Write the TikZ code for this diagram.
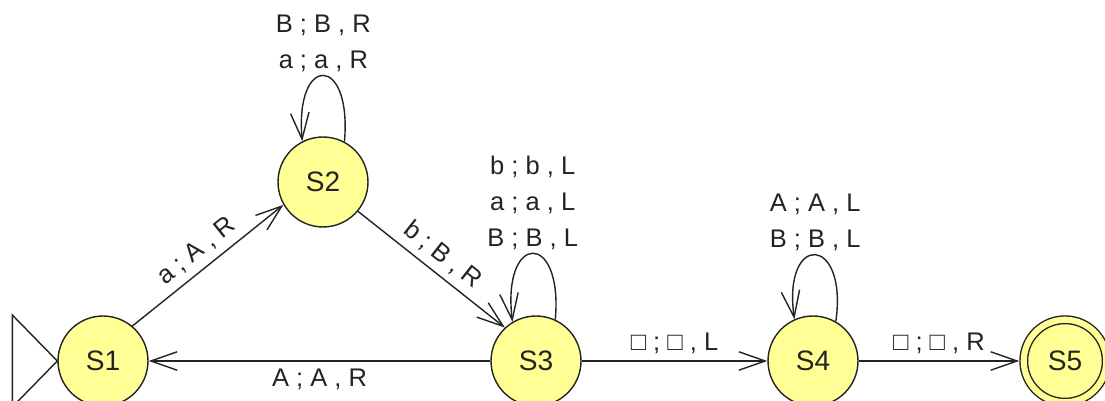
\documentclass[tikz,border=0pt]{standalone}
\usepackage{fontspec}
\setmainfont{Liberation Sans}
\usetikzlibrary{arrows.meta}
\definecolor{statefill}{RGB}{255,255,150}
\definecolor{ink}{RGB}{35,35,35}

\begin{document}
\begin{tikzpicture}[x=0.02cm, y=0.02cm,
    state/.style={circle, draw=ink, fill=statefill, line width=0.8pt, minimum size=1.8cm, inner sep=0pt, text=ink, font=\fontsize{16}{18}\selectfont},
    final/.style={state, double=statefill, double distance=3.5pt, minimum size=1.65cm, outer sep=2.6pt},
    trans/.style={draw=ink, line width=0.8pt, -{Straight Barb[length=15pt, width=10.5pt]}},
    lbl/.style={text=ink, font=\fontsize{14.5}{20.5}\selectfont, align=center, inner sep=4pt},
    looplbl/.style={lbl, inner sep=2pt}]
      \useasboundingbox (0, 0) rectangle (1105, 401);

      \node[state] (s1) at (103, 40) {S1};
      \node[state] (s2) at (323, 219) {S2};
      \node[state] (s3) at (536, 40) {S3};
      \node[state] (s4) at (813, 40) {S4};
      \node[final] (s5) at (1065, 40) {S5};

      % start marker
      \draw[draw=ink, line width=0.8pt] (s1.west) -- ++(-45, 46) -- ++(0, -92) -- cycle;

      \draw[trans] (s1.50) -- node[lbl, sloped, above] {a ; A , R} (s2.210);
      \draw[trans] (s2.320) -- node[lbl, sloped, above] {b ; B , R} (s3.133);
      \draw[trans] (s3) -- node[lbl, below] {A ; A , R} (s1);
      \draw[trans] (s3) -- node[lbl, above] {□ ; □ , L} (s4);
      \draw[trans] (s4) -- node[lbl, above] {□ ; □ , R} (s5);

      % loops
      \draw[trans] (s2.62) to[out=85, in=95, distance=1.76cm] node[looplbl, above] {B ; B , R\\a ; a , R} (s2.117);
      \draw[trans] (s3.65) to[out=85, in=97, distance=1.8cm] node[looplbl, above] {b ; b , L\\a ; a , L\\B ; B , L} (s3.121);
      \draw[trans] (s4.60) to[out=82, in=98, distance=1.76cm] node[looplbl, above] {A ; A , L\\B ; B , L} (s4.114);
    \end{tikzpicture}
\end{document}
